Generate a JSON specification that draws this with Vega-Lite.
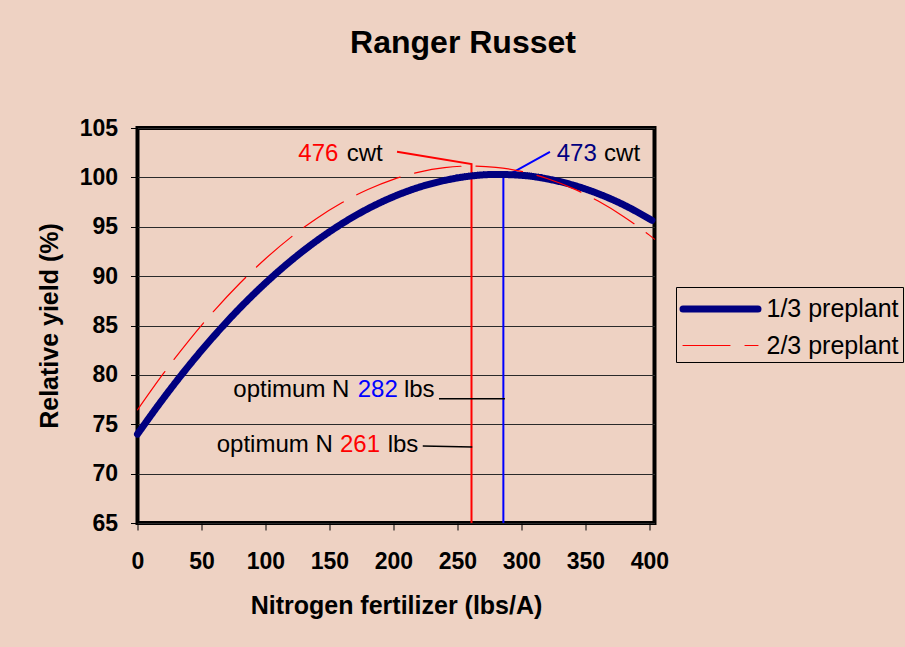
{
  "$schema": "https://vega.github.io/schema/vega-lite/v6.json",
  "width": 517,
  "height": 395,
  "autosize": {"type": "none"},
  "padding": {"left": 137.5, "top": 128, "right": 250.5, "bottom": 124},
  "background": "#EED2C3",
  "title": {"text": "Ranger Russet", "font": "Liberation Sans", "fontSize": 32, "fontWeight": "bold", "color": "black", "anchor": "middle", "dx": 67, "offset": 32, "baseline": "alphabetic"},
  "config": {
    "view": {"stroke": "black", "strokeWidth": 4, "fill": "#EED2C3"},
    "font": "Liberation Sans",
    "legend": {"orient": "none", "legendX": 538.5, "legendY": 159, "title": null, "fillColor": "#EED2C3", "strokeColor": "black", "padding": 3.5, "cornerRadius": 0, "labelFont": "Liberation Sans", "labelFontSize": 25, "labelColor": "black", "symbolType": "M-1,0L4,0", "symbolSize": 900, "labelOffset": 50, "rowPadding": 6, "labelLimit": 300}
  },
  "datasets": {
    "curves": [
      {"s": "1/3 preplant", "x": 0, "y": 74.0},
      {"s": "1/3 preplant", "x": 20, "y": 77.58},
      {"s": "1/3 preplant", "x": 40, "y": 80.91},
      {"s": "1/3 preplant", "x": 60, "y": 83.97},
      {"s": "1/3 preplant", "x": 80, "y": 86.77},
      {"s": "1/3 preplant", "x": 100, "y": 89.3},
      {"s": "1/3 preplant", "x": 120, "y": 91.57},
      {"s": "1/3 preplant", "x": 140, "y": 93.58},
      {"s": "1/3 preplant", "x": 160, "y": 95.33},
      {"s": "1/3 preplant", "x": 180, "y": 96.82},
      {"s": "1/3 preplant", "x": 200, "y": 98.04},
      {"s": "1/3 preplant", "x": 220, "y": 99.0},
      {"s": "1/3 preplant", "x": 240, "y": 99.69},
      {"s": "1/3 preplant", "x": 260, "y": 100.13},
      {"s": "1/3 preplant", "x": 280, "y": 100.3},
      {"s": "1/3 preplant", "x": 300, "y": 100.21},
      {"s": "1/3 preplant", "x": 320, "y": 99.85},
      {"s": "1/3 preplant", "x": 340, "y": 99.23},
      {"s": "1/3 preplant", "x": 360, "y": 98.35},
      {"s": "1/3 preplant", "x": 380, "y": 97.21},
      {"s": "1/3 preplant", "x": 400, "y": 95.8},
      {"s": "1/3 preplant", "x": 402, "y": 95.65},
      {"s": "2/3 preplant", "x": 0, "y": 76.46},
      {"s": "2/3 preplant", "x": 20, "y": 80.1},
      {"s": "2/3 preplant", "x": 40, "y": 83.45},
      {"s": "2/3 preplant", "x": 60, "y": 86.51},
      {"s": "2/3 preplant", "x": 80, "y": 89.28},
      {"s": "2/3 preplant", "x": 100, "y": 91.76},
      {"s": "2/3 preplant", "x": 120, "y": 93.95},
      {"s": "2/3 preplant", "x": 140, "y": 95.84},
      {"s": "2/3 preplant", "x": 160, "y": 97.45},
      {"s": "2/3 preplant", "x": 180, "y": 98.77},
      {"s": "2/3 preplant", "x": 200, "y": 99.8},
      {"s": "2/3 preplant", "x": 220, "y": 100.54},
      {"s": "2/3 preplant", "x": 240, "y": 100.99},
      {"s": "2/3 preplant", "x": 260, "y": 101.15},
      {"s": "2/3 preplant", "x": 280, "y": 101.02},
      {"s": "2/3 preplant", "x": 300, "y": 100.6},
      {"s": "2/3 preplant", "x": 320, "y": 99.89},
      {"s": "2/3 preplant", "x": 340, "y": 98.89},
      {"s": "2/3 preplant", "x": 360, "y": 97.6},
      {"s": "2/3 preplant", "x": 380, "y": 96.02},
      {"s": "2/3 preplant", "x": 400, "y": 94.15},
      {"s": "2/3 preplant", "x": 404, "y": 93.74}
    ],
    "minor": [{"x": 25}, {"x": 75}, {"x": 125}, {"x": 175}, {"x": 225}, {"x": 275}, {"x": 325}, {"x": 375}],
    "redLine": [{"i": 1, "x": 261.0, "y": 65}, {"i": 2, "x": 261.0, "y": 101.35}, {"i": 3, "x": 202.8, "y": 102.6}],
    "blueLine": [{"i": 1, "x": 285.9, "y": 65}, {"i": 2, "x": 285.9, "y": 99.97}, {"i": 3, "x": 322.3, "y": 102.57}],
    "blackLines": [
      {"seg": "a", "x": 235.6, "y": 77.59}, {"seg": "a", "x": 287.2, "y": 77.59},
      {"seg": "b", "x": 222.9, "y": 72.8}, {"seg": "b", "x": 261.6, "y": 72.7}
    ],
    "blackText": [
      {"x": 163.5, "y": 101.69, "t": "cwt"},
      {"x": 364.6, "y": 101.69, "t": "cwt"},
      {"x": 74.9, "y": 77.73, "t": "optimum N"},
      {"x": 208.2, "y": 77.73, "t": "lbs"},
      {"x": 61.9, "y": 72.22, "t": "optimum N"},
      {"x": 195.5, "y": 72.22, "t": "lbs"}
    ],
    "redText": [
      {"x": 125.66, "y": 101.69, "t": "476"},
      {"x": 158.2, "y": 72.22, "t": "261"}
    ],
    "blueText": [
      {"x": 172.1, "y": 77.73, "t": "282"}
    ],
    "navyText": [
      {"x": 327.6, "y": 101.69, "t": "473"}
    ]
  },
  "encoding": {
    "x": {
      "field": "x", "type": "quantitative",
      "scale": {"domain": [0, 404], "nice": false, "zero": false},
      "axis": {
        "values": [0, 50, 100, 150, 200, 250, 300, 350, 400],
        "domain": false, "grid": false,
        "tickColor": "black", "tickSize": 7, "tickWidth": 1,
        "labelFont": "Liberation Sans", "labelFontSize": 23, "labelFontWeight": "bold", "labelColor": "black",
        "labelPadding": 20, "labelFlush": false, "labelOverlap": false,
        "title": "Nitrogen fertilizer (lbs/A)",
        "titleFont": "Liberation Sans", "titleFontSize": 25, "titleFontWeight": "bold", "titleColor": "black",
        "titlePadding": 20
      }
    },
    "y": {
      "field": "y", "type": "quantitative",
      "scale": {"domain": [65, 105], "nice": false, "zero": false},
      "axis": {
        "values": [65, 70, 75, 80, 85, 90, 95, 100, 105],
        "domain": false, "grid": true, "gridColor": "#2a2a2a", "gridWidth": 1,
        "tickColor": "black", "tickSize": 7, "tickWidth": 1,
        "labelFont": "Liberation Sans", "labelFontSize": 23, "labelFontWeight": "bold", "labelColor": "black",
        "labelPadding": 13, "labelFlush": false, "labelOverlap": false,
        "title": "Relative yield (%)",
        "titleFont": "Liberation Sans", "titleFontSize": 25, "titleFontWeight": "bold", "titleColor": "black",
        "titlePadding": 17
      }
    }
  },
  "layer": [
    {
      "data": {"name": "minor"},
      "mark": {"type": "rule", "color": "black", "strokeWidth": 1},
      "encoding": {"y": {"datum": 65}, "y2": {"datum": 65.7}}
    },
    {
      "data": {"name": "redLine"},
      "mark": {"type": "line", "color": "#FF0000", "strokeWidth": 2},
      "encoding": {"order": {"field": "i", "type": "quantitative"}}
    },
    {
      "data": {"name": "blueLine"},
      "mark": {"type": "line", "color": "#0000FF", "strokeWidth": 2},
      "encoding": {"order": {"field": "i", "type": "quantitative"}}
    },
    {
      "data": {"name": "blackLines"},
      "mark": {"type": "line", "color": "black", "strokeWidth": 1.5},
      "encoding": {"detail": {"field": "seg", "type": "nominal"}}
    },
    {
      "data": {"name": "curves"},
      "mark": {"type": "line", "interpolate": "monotone", "strokeCap": "round"},
      "encoding": {
        "color": {
          "field": "s", "type": "nominal",
          "scale": {"domain": ["1/3 preplant", "2/3 preplant"], "range": ["#000080", "#FF0000"]},
          "legend": {"encode": {"symbols": {"update": {"strokeCap": {"value": "round"}}}}}
        },
        "strokeWidth": {
          "field": "s", "type": "nominal",
          "scale": {"domain": ["1/3 preplant", "2/3 preplant"], "range": [7, 1.2]},
          "legend": {"encode": {"symbols": {"update": {"strokeCap": {"value": "round"}}}}}
        },
        "strokeDash": {
          "field": "s", "type": "nominal",
          "scale": {"domain": ["1/3 preplant", "2/3 preplant"], "range": [[1, 0], [47, 15]]},
          "legend": {"encode": {"symbols": {"update": {"strokeCap": {"value": "round"}}}}}
        }
      }
    },
    {
      "data": {"name": "blackText"},
      "mark": {"type": "text", "align": "left", "baseline": "alphabetic", "font": "Liberation Sans", "fontSize": 24, "color": "black"},
      "encoding": {"text": {"field": "t", "type": "nominal"}}
    },
    {
      "data": {"name": "redText"},
      "mark": {"type": "text", "align": "left", "baseline": "alphabetic", "font": "Liberation Sans", "fontSize": 24, "color": "#FF0000"},
      "encoding": {"text": {"field": "t", "type": "nominal"}}
    },
    {
      "data": {"name": "blueText"},
      "mark": {"type": "text", "align": "left", "baseline": "alphabetic", "font": "Liberation Sans", "fontSize": 24, "color": "#0000FF"},
      "encoding": {"text": {"field": "t", "type": "nominal"}}
    },
    {
      "data": {"name": "navyText"},
      "mark": {"type": "text", "align": "left", "baseline": "alphabetic", "font": "Liberation Sans", "fontSize": 24, "color": "#000080"},
      "encoding": {"text": {"field": "t", "type": "nominal"}}
    }
  ]
}
